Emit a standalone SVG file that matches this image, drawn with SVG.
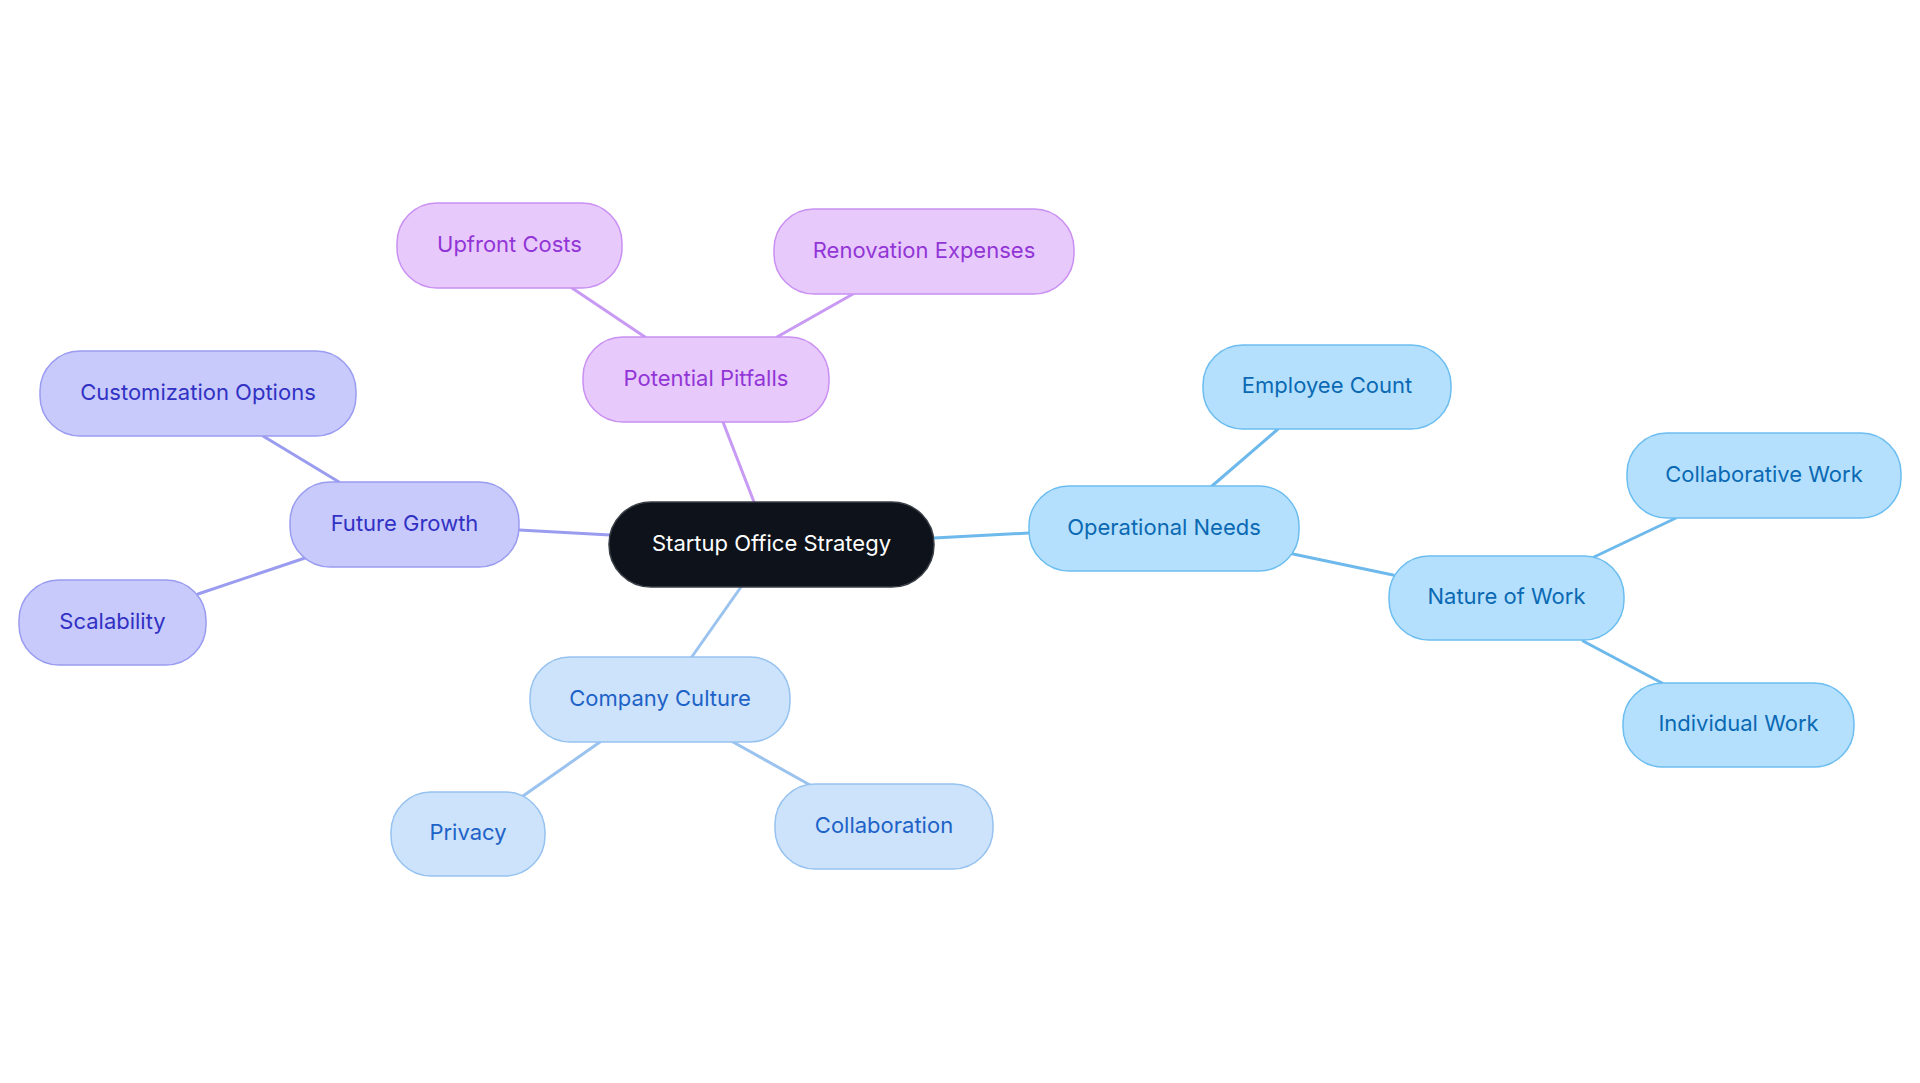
<svg xmlns="http://www.w3.org/2000/svg" width="1920" height="1083" viewBox="0 0 1920 1083">
<style>
text{font-family:Inter,"Noto Sans","Liberation Sans",sans-serif;font-size:22px;text-anchor:middle;dominant-baseline:central}
.n rect{stroke-width:1.5}
.root rect{fill:#0e131b;stroke:#3a3f47}
.root text{fill:#ffffff}
.pp rect{fill:#e8c9fc;stroke:#c990f2}
.pp text{fill:#9235d6}
.fg rect{fill:#c8cafb;stroke:#999cf0}
.fg text{fill:#3131c4}
.on rect{fill:#b4e0fd;stroke:#6cbdf0}
.on text{fill:#0b69b3}
.cc rect{fill:#cde3fb;stroke:#96c2f0}
.cc text{fill:#1d62c7}
#edges line{stroke-width:3;stroke-linecap:round}
.epp{stroke:#c89af4}.efg{stroke:#9a9cf0}.eon{stroke:#6db9ec}.ecc{stroke:#9ac3ef}
</style>
<rect width="1920" height="1083" fill="#ffffff"/>
<g id="edges">
<line class="epp" x1="723" y1="422" x2="754" y2="502"/>
<line class="epp" x1="572" y1="288" x2="645" y2="337"/>
<line class="epp" x1="853" y1="294" x2="777" y2="337"/>
<line class="efg" x1="519" y1="530" x2="610" y2="535"/>
<line class="efg" x1="263" y1="436" x2="339" y2="482"/>
<line class="efg" x1="198" y1="594" x2="305" y2="558"/>
<line class="eon" x1="934" y1="538" x2="1029" y2="533"/>
<line class="eon" x1="1278" y1="429" x2="1212" y2="486"/>
<line class="eon" x1="1293" y1="554" x2="1393" y2="575"/>
<line class="eon" x1="1594" y1="557" x2="1676" y2="518"/>
<line class="eon" x1="1583" y1="641" x2="1662" y2="683"/>
<line class="ecc" x1="741" y1="587" x2="691" y2="658"/>
<line class="ecc" x1="600" y1="742" x2="523" y2="796"/>
<line class="ecc" x1="733" y1="742" x2="810" y2="785"/>
</g>
<g id="root" class="n root"><rect x="609" y="502" width="325" height="85" rx="42"/><text x="771.5" y="543">Startup Office Strategy</text></g>
<g id="pitfalls" class="n pp"><rect x="583" y="337" width="246" height="85" rx="40"/><text x="706" y="378">Potential Pitfalls</text></g>
<g id="upfront" class="n pp"><rect x="397" y="203" width="225" height="85" rx="40"/><text x="509.5" y="244">Upfront Costs</text></g>
<g id="renovation" class="n pp"><rect x="774" y="209" width="300" height="85" rx="40"/><text x="924" y="250">Renovation Expenses</text></g>
<g id="growth" class="n fg"><rect x="290" y="482" width="229" height="85" rx="40"/><text x="404.5" y="523">Future Growth</text></g>
<g id="customization" class="n fg"><rect x="40" y="351" width="316" height="85" rx="40"/><text x="198" y="392">Customization Options</text></g>
<g id="scalability" class="n fg"><rect x="19" y="580" width="187" height="85" rx="40"/><text x="112.5" y="621">Scalability</text></g>
<g id="operational" class="n on"><rect x="1029" y="486" width="270" height="85" rx="40"/><text x="1164" y="527">Operational Needs</text></g>
<g id="employee" class="n on"><rect x="1203" y="345" width="248" height="84" rx="40"/><text x="1327" y="385">Employee Count</text></g>
<g id="nature" class="n on"><rect x="1389" y="556" width="235" height="84" rx="40"/><text x="1506.5" y="596">Nature of Work</text></g>
<g id="collabwork" class="n on"><rect x="1627" y="433" width="274" height="85" rx="40"/><text x="1764" y="474">Collaborative Work</text></g>
<g id="individual" class="n on"><rect x="1623" y="683" width="231" height="84" rx="40"/><text x="1738.5" y="723">Individual Work</text></g>
<g id="culture" class="n cc"><rect x="530" y="657" width="260" height="85" rx="40"/><text x="660" y="698">Company Culture</text></g>
<g id="privacy" class="n cc"><rect x="391" y="792" width="154" height="84" rx="40"/><text x="468" y="832">Privacy</text></g>
<g id="collaboration" class="n cc"><rect x="775" y="784" width="218" height="85" rx="40"/><text x="884" y="825">Collaboration</text></g>
</svg>
